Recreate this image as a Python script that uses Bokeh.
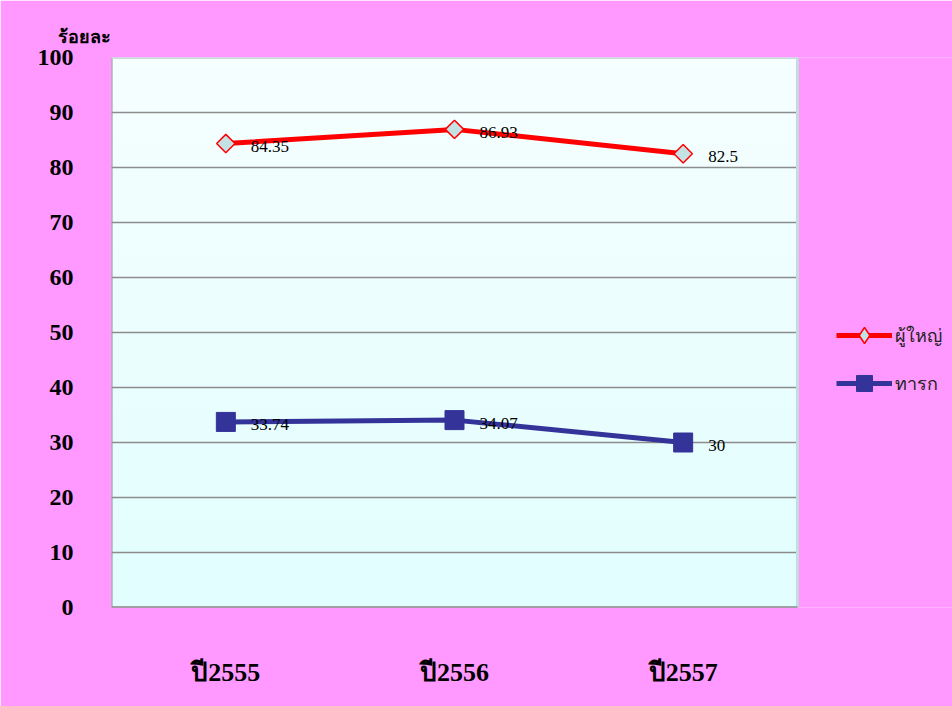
import math
import numpy as np
from bokeh.plotting import figure
from bokeh.models import (ColumnDataSource, FixedTicker, Legend, LegendItem, Title, Range1d)
from bokeh.embed import file_html
from bokeh.resources import INLINE
from bokeh.core.properties import value

years = ["ปี2555", "ปี2556", "ปี2557"]
adult = [84.35, 86.93, 82.5]
child = [33.74, 34.07, 30]
adult_labels = ["84.35", "86.93", "82.5"]
child_labels = ["33.74", "34.07", "30"]
series_names = ["ผู้ใหญ่", "ทารก"]
y_ticks = [0, 10, 20, 30, 40, 50, 60, 70, 80, 90, 100]
y_title = "ร้อยละ"

PINK = "#FF99FF"
SERIF = "Liberation Serif"
GRID = "#8C8C8C"
EDGE_LIGHT = "#C4DCDC"
RED = "#FF0000"
NAVY = "#333399"
DIAMOND_FILL = "#C4E2E4"

# layout (pixels)
W, H = 952, 706
LEFT, RIGHT_PAD, TOP, BOTTOM = 111, 155, 57, 99
area_px = W - LEFT - RIGHT_PAD            # width of the drawn plot area
frame_px = W - LEFT                        # frame extends into legend region

n = len(years)
xs = list(range(n))
x0, x1 = -0.5, n - 0.5
x_end = x0 + (x1 - x0) * frame_px / area_px
y0, y1 = y_ticks[0], y_ticks[-1]

p = figure(width=W, height=H, x_range=Range1d(x0, x_end), y_range=Range1d(y0, y1),
           output_backend="svg", toolbar_location=None,
           min_border_left=LEFT, min_border_right=0, min_border_top=TOP, min_border_bottom=BOTTOM)

p.border_fill_color = PINK
p.background_fill_color = PINK
p.outline_line_color = None
p.xgrid.grid_line_color = None
p.ygrid.grid_line_color = None

# plot area gradient background
rows = 64
top_c = np.array([0xF6, 0xFF, 0xFF])
bot_c = np.array([0xE2, 0xFE, 0xFE])
img = np.zeros((rows, 1), dtype=np.uint32)
view = img.view(dtype=np.uint8).reshape((rows, 1, 4))
for i in range(rows):
    t = i / (rows - 1)
    c = bot_c + (top_c - bot_c) * t
    view[i, 0, 0:3] = c.astype(np.uint8)
    view[i, 0, 3] = 255
p.image_rgba(image=[img], x=x0, y=y0, dw=x1 - x0, dh=y1 - y0)

# grid lines inside the plot area (top edge drawn separately, lighter)
gy = y_ticks[:-1]
p.segment(x0=[x0] * len(gy), x1=[x1] * len(gy), y0=gy, y1=gy, line_color=GRID, line_width=1.5)
p.segment(x0=[x0], x1=[x0], y0=[y0], y1=[y1], line_color=GRID, line_width=2)
p.segment(x0=[x0, x1], x1=[x1, x1], y0=[y1, y0], y1=[y1, y1], line_color=EDGE_LIGHT, line_width=3)
p.segment(x0=[x0], x1=[x1], y0=[y0], y1=[y0], line_color=GRID, line_width=2.5)

# axes
p.yaxis.ticker = FixedTicker(ticks=y_ticks)
p.xaxis.ticker = FixedTicker(ticks=xs)
p.xaxis.major_label_overrides = {i: years[i] for i in xs}
for ax in (p.xaxis, p.yaxis):
    ax.axis_line_color = None
    ax.major_tick_line_color = None
    ax.minor_tick_line_color = None
    ax.major_tick_out = 0
    ax.major_tick_in = 0
    ax.minor_tick_out = 0
    ax.minor_tick_in = 0
    ax.major_label_text_font = SERIF
    ax.major_label_text_font_style = "bold"
    ax.major_label_text_color = "black"
p.yaxis.major_label_text_font_size = "24px"
p.yaxis.major_label_standoff = 38
p.xaxis.major_label_text_font_size = "26px"
p.xaxis.major_label_standoff = 50

src_a = ColumnDataSource(dict(x=xs, y=adult, t=adult_labels))
src_c = ColumnDataSource(dict(x=xs, y=child, t=child_labels))

la = p.line("x", "y", source=src_a, line_color=RED, line_width=5)
ma = p.scatter("x", "y", source=src_a, marker="square", angle=math.pi / 4, size=13,
               fill_color=DIAMOND_FILL, line_color=RED, line_width=1.5)
lc = p.line("x", "y", source=src_c, line_color=NAVY, line_width=5)
mc = p.scatter("x", "y", source=src_c, marker="square", size=19,
               fill_color=NAVY, line_color=NAVY)

# legend-only diamond symbol (hidden in the plot)
ma_leg = p.scatter("x", "y", source=src_a, marker="diamond", size=13,
                   fill_color=DIAMOND_FILL, line_color=RED, line_width=1.5, visible=False)

for s in (src_a, src_c):
    p.text("x", "y", text="t", source=s, x_offset=25, y_offset=3,
           text_font=value(SERIF), text_font_size="17px", text_color="black",
           text_baseline="middle", text_align="left")

legend = Legend(items=[LegendItem(label=series_names[0], renderers=[la, ma_leg]),
                       LegendItem(label=series_names[1], renderers=[lc, mc])],
                location=(725, 204), background_fill_alpha=0, border_line_color=None,
                glyph_width=56, glyph_height=40, spacing=8, padding=0, margin=0,
                label_text_font=SERIF, label_text_font_size="18px", label_standoff=3,
                label_text_color="#222222", inactive_fill_alpha=0)
p.add_layout(legend, "center")

p.add_layout(Title(text=y_title, align="left", offset=-54, standoff=22,
                   text_font=SERIF, text_font_style="bold", text_font_size="18px",
                   text_color="black"), "above")

open("out.html", "w").write(file_html(p, INLINE))
